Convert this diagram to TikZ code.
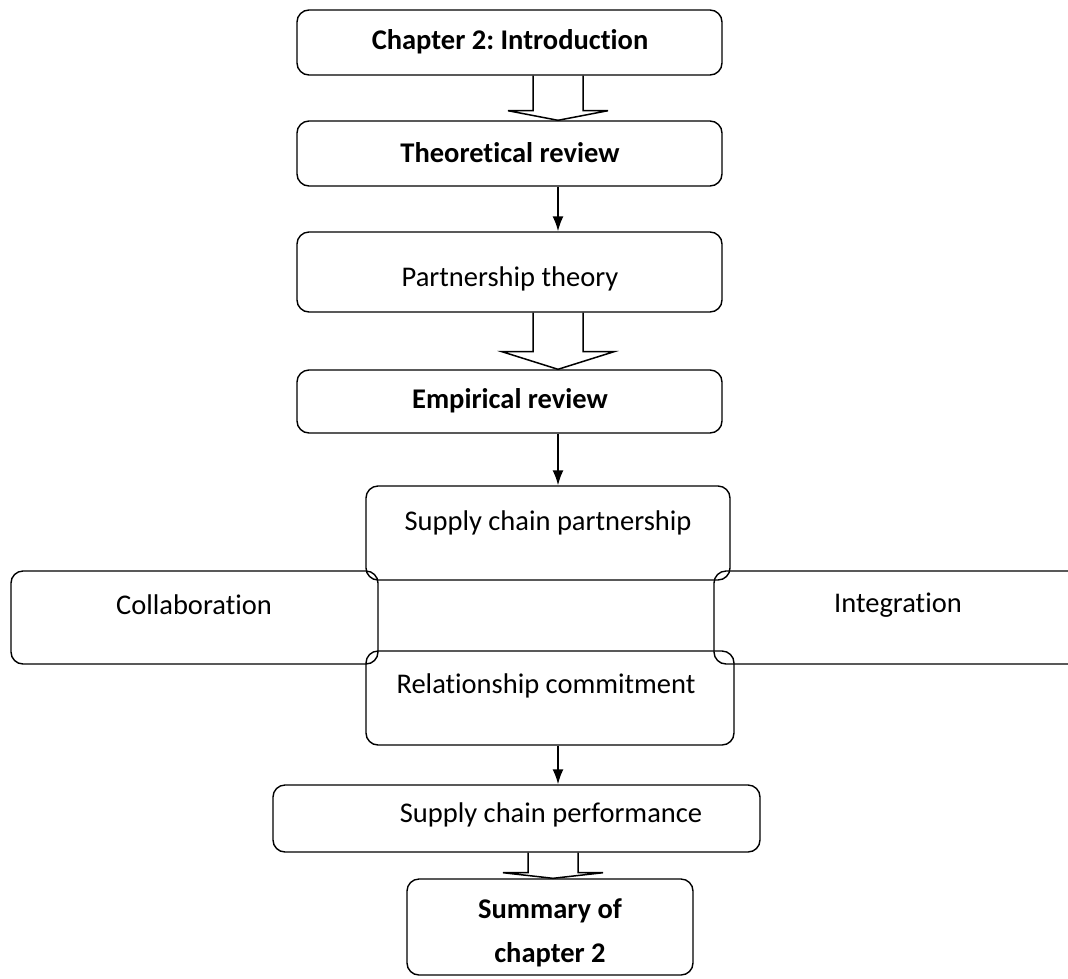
\documentclass[tikz,border=0pt]{standalone}
\usepackage{fontspec}
\setmainfont[RawFeature={-liga;-clig;-dlig}]{Carlito}
\frenchspacing
\usetikzlibrary{calc,arrows.meta}
\tikzset{
  box/.style={draw, line width=1.4pt, rounded corners=12pt, minimum width=#1, inner sep=0pt},
  txt/.style={font=\fontsize{28.5}{44}\selectfont, inner sep=0pt, align=center},
  btxt/.style={txt, font=\fontsize{28.5}{44}\selectfont\bfseries},
  conn/.style={line width=1.6pt, -{Latex[length=15pt,width=11pt]}},
  blk/.style={line width=1.5pt}
}
\newcommand\blkarrow[6]{% from, to, x, wing depth, half wing, half shaft
  \draw[blk] ($(#1.south -| #3)+(-#6,0)$) -- ++(0,#4) -- ($(#1.south -| #3)+(-#5,#4)$)
    -- (#2.north -| #3) -- ($(#1.south -| #3)+(#5,#4)$) -- ($(#1.south -| #3)+(#6,#4)$)
    -- ($(#1.south -| #3)+(#6,0)$);}
\begin{document}
\begin{tikzpicture}[x=1pt,y=-1pt]
\clip (0,0) rectangle (1068,978);
\fill[white] (0,0) rectangle (1068,978);
\coordinate (ax) at (558,0);
\coordinate (ax2) at (553,0);
% boxes
\node[box=425pt, minimum height=65pt] (b1) at (509.5,42.5) {};
\node[box=425pt, minimum height=65pt] (b2) at (509.5,153.5) {};
\node[box=425pt, minimum height=80pt] (b3) at (509.5,272) {};
\node[box=425pt, minimum height=63pt] (b4) at (509.5,401.5) {};
\node[box=364pt, minimum height=94pt] (s) at (548,533) {};
\node[box=367pt, minimum height=93pt] (c) at (194.5,617.5) {};
\node[box=376pt, minimum height=93pt] (i) at (902,617.5) {};
\node[box=368pt, minimum height=94pt] (r) at (550,698) {};
\node[box=487pt, minimum height=67pt] (p) at (516.5,818.5) {};
\node[box=286pt, minimum height=96pt] (m) at (550,927) {};
% texts
\node[btxt] (t1) at (510,42) {Chapter 2: Introduction};
\node[btxt] (t2) at (510,153) {Theoretical review};
\node[txt] (t3) at (510,279) {Partnership theory};
\node[btxt] (t4) at (510,401) {Empirical review};
\node[txt] (ts) at (548,523) {Supply chain partnership};
\node[txt] (tc) at (194,605) {Collaboration};
\node[txt] (ti) at (898,605) {Integration};
\node[txt] (tr) at (546,686) {Relationship commitment};
\node[txt] (tp) at (551,815) {Supply chain performance};
\node[btxt] (tm) at (550,933) {Summary of\\chapter 2};
% connectors
\blkarrow{b1}{b2}{ax}{35}{50}{25}
\draw[conn] (b2.south -| ax) -- (b3.north -| ax);
\blkarrow{b3}{b4}{ax}{39}{56}{25}
\draw[conn] (b4.south -| ax) -- (s.north -| ax);
\draw[conn] (r.south -| ax) -- (p.north -| ax);
\blkarrow{p}{m}{ax2}{20}{50}{25}
\end{tikzpicture}
\end{document}
